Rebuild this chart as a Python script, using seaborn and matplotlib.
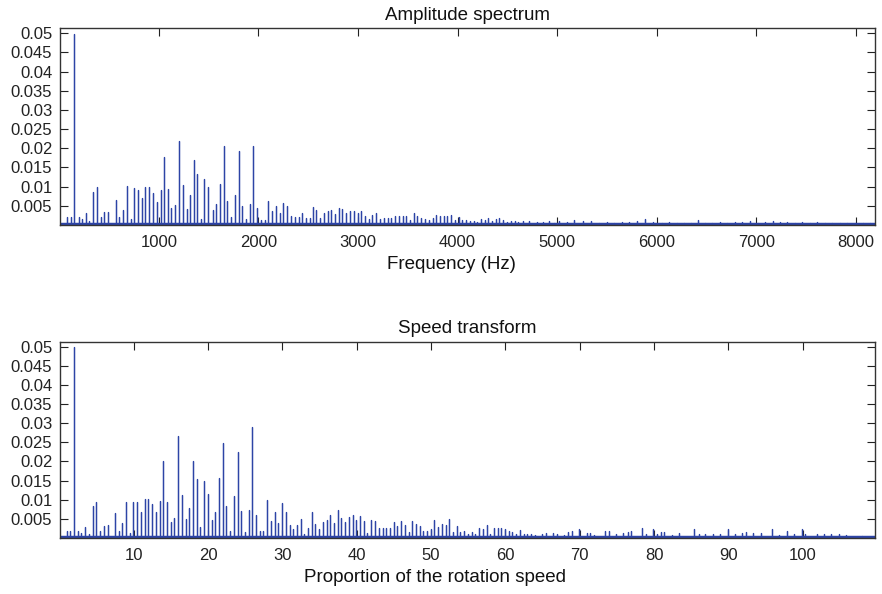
import numpy as np
import pandas as pd
import seaborn as sns
import matplotlib.pyplot as plt

# --- amplitude spectrum peaks (Hz, amplitude) ---
freq_low = [77, 115, 147, 194, 230, 268, 301, 341, 375, 415, 451, 488,
            565, 602, 642, 679, 716, 749, 789, 826, 863, 903, 940, 977,
            1017, 1050, 1087, 1124, 1164, 1201, 1238, 1278, 1314, 1351, 1388, 1425,
            1458, 1498, 1539, 1579, 1615, 1652, 1689, 1726, 1763, 1800, 1840, 1876,
            1913, 1950, 1990, 2027, 2063, 2100, 2141, 2174, 2214, 2251, 2287, 2327,
            2364, 2404]
amp_low = [0.002, 0.002, 0.0498, 0.002, 0.0015, 0.003, 0.001, 0.0085, 0.0098, 0.002, 0.0035, 0.0035,
           0.0065, 0.002, 0.004, 0.0101, 0.0015, 0.0096, 0.0092, 0.007, 0.0099, 0.0099, 0.0083, 0.006,
           0.0092, 0.0177, 0.0094, 0.0043, 0.0053, 0.022, 0.0104, 0.0042, 0.0079, 0.0169, 0.0133, 0.0015,
           0.012, 0.0098, 0.004, 0.0055, 0.0107, 0.0207, 0.0062, 0.002, 0.0079, 0.0194, 0.005, 0.0015,
           0.0055, 0.0205, 0.0045, 0.0012, 0.0013, 0.0062, 0.0037, 0.0049, 0.003, 0.0056, 0.005, 0.0022,
           0.002, 0.002]

freq_mid = [2442, 2475, 2515, 2548, 2582, 2622, 2655, 2699, 2733, 2773, 2809, 2843,
            2883, 2923, 2963, 3000, 3033, 3074, 3107, 3144, 3184, 3224, 3260, 3298,
            3335, 3375, 3408, 3448, 3485, 3521, 3562, 3596, 3636, 3672, 3709, 3749,
            3786, 3822, 3859, 3897, 3933, 3970, 4010, 4047, 4087, 4127, 4164, 4197,
            4234, 4274, 4307, 4347, 4388, 4421, 4461, 4498, 4538, 4575, 4612, 4655,
            4722, 4800, 4860, 4916, 4970, 5023, 5100, 5174, 5258, 5341]
amp_mid = [0.003, 0.0017, 0.0017, 0.0047, 0.0038, 0.0017, 0.0031, 0.0037, 0.004, 0.0029, 0.0044, 0.0042,
           0.003, 0.0037, 0.0037, 0.003, 0.0037, 0.0024, 0.0015, 0.0026, 0.003, 0.0016, 0.0018, 0.0017,
           0.0017, 0.0023, 0.0022, 0.0023, 0.0023, 0.0014, 0.003, 0.0022, 0.0017, 0.0015, 0.0014, 0.0017,
           0.0027, 0.0023, 0.0023, 0.0023, 0.0026, 0.0012, 0.002, 0.0013, 0.0012, 0.0011, 0.001, 0.0008,
           0.0016, 0.0014, 0.0017, 0.0009, 0.0016, 0.0017, 0.0014, 0.0008, 0.001, 0.001, 0.0008, 0.001,
           0.0009, 0.0007, 0.0007, 0.001, 0.0006, 0.001, 0.0007, 0.0012, 0.001, 0.001]

freq_high = [5420, 5500, 5570, 5650, 5720, 5800, 5886, 5960, 6050, 6120, 6200, 6270,
             6340, 6411, 6490, 6560, 6640, 6710, 6790, 6860, 6940, 7020, 7090, 7170,
             7240, 7310, 7390, 7460, 7540, 7610, 7690, 7760, 7840, 7910, 7990, 8070, 8140]
amp_high = [0.0006, 0.0008, 0.0006, 0.0007, 0.0008, 0.0009, 0.0016, 0.0008, 0.0006, 0.0007, 0.0005, 0.0006,
            0.0005, 0.0012, 0.0005, 0.0006, 0.0007, 0.0006, 0.0008, 0.0007, 0.0009, 0.0006, 0.0008, 0.001,
            0.0007, 0.0008, 0.0006, 0.0007, 0.0006, 0.0007, 0.0005, 0.0006, 0.0005, 0.0006, 0.0005, 0.0006, 0.0004]

# --- speed transform peaks (order of rotation speed, amplitude) ---
order_low = [0.98, 1.48, 1.93, 2.46, 2.96, 3.5, 3.98, 4.5, 5.0, 5.5, 6.0, 6.5,
             7.48, 7.98, 8.48, 8.97, 9.46, 9.97, 10.48, 10.98, 11.48, 11.98, 12.48, 12.97,
             13.48, 13.95, 14.48, 14.98, 15.48, 15.97, 16.47, 16.98, 17.5, 17.98, 18.48, 18.98,
             19.47, 19.97, 20.48, 20.96, 21.45, 21.95, 22.47, 22.97, 23.48, 23.98, 24.5, 25.0,
             25.5, 25.98, 26.48, 26.97, 27.46, 27.95, 28.45, 28.97, 29.47, 30.0, 30.48, 31.0,
             31.47, 31.98]
samp_low = [0.0019, 0.0017, 0.0498, 0.0017, 0.0013, 0.0029, 0.001, 0.0084, 0.0094, 0.0018, 0.0032, 0.0035,
            0.0065, 0.0019, 0.004, 0.0095, 0.0013, 0.0095, 0.0095, 0.0069, 0.0102, 0.0103, 0.0089, 0.0067,
            0.0096, 0.0202, 0.0095, 0.0042, 0.0052, 0.0267, 0.0112, 0.005, 0.0078, 0.0202, 0.0154, 0.0029,
            0.0149, 0.0115, 0.0048, 0.0068, 0.0156, 0.0248, 0.0083, 0.0017, 0.011, 0.0224, 0.0071, 0.0015,
            0.0072, 0.0289, 0.006, 0.0018, 0.0018, 0.01, 0.0045, 0.0068, 0.0039, 0.0091, 0.0068, 0.0034,
            0.0022, 0.0033]

order_mid = [32.44, 32.97, 33.46, 33.92, 34.45, 34.94, 35.44, 35.94, 36.46, 36.96, 37.46, 37.95,
             38.44, 38.94, 39.44, 39.96, 40.45, 40.93, 41.45, 41.94, 42.47, 42.97, 43.47, 43.96,
             44.45, 44.95, 45.44, 45.94, 46.46, 46.97, 47.46, 47.95, 48.45, 48.94, 49.43, 49.93,
             50.46, 50.93, 51.45, 51.95, 52.44, 52.93, 53.43, 53.92, 54.42, 54.91, 55.45, 55.94,
             56.43, 56.93, 57.46, 57.91, 58.45, 58.95, 59.44, 59.93, 60.43, 60.92, 61.41, 61.95,
             62.45, 62.94, 63.43, 63.93]
samp_mid = [0.005, 0.001, 0.0025, 0.0069, 0.0036, 0.0023, 0.0042, 0.0047, 0.0061, 0.0039, 0.0074, 0.0053,
            0.0041, 0.0054, 0.006, 0.0046, 0.0058, 0.0045, 0.0014, 0.0046, 0.0044, 0.0026, 0.0027, 0.0027,
            0.0027, 0.0041, 0.0032, 0.0043, 0.0033, 0.0015, 0.0043, 0.0036, 0.0032, 0.0017, 0.0019, 0.0023,
            0.0048, 0.0029, 0.0036, 0.0033, 0.005, 0.0016, 0.003, 0.0016, 0.0019, 0.001, 0.0016, 0.0011,
            0.0027, 0.0023, 0.0033, 0.0009, 0.0025, 0.0025, 0.0025, 0.0022, 0.0017, 0.0015, 0.0011, 0.002,
            0.001, 0.0009, 0.0009, 0.0008]

order_high = [64.91, 65.41, 66.39, 66.89, 67.87, 68.41, 68.91, 69.89, 70.93, 71.41, 71.91, 73.4,
              73.9, 74.9, 75.86, 76.44, 76.85, 78.33, 78.87, 79.9, 80.4, 80.9, 81.37, 82.37,
              83.39, 85.41, 86.0, 86.85, 87.88, 88.87, 89.9, 90.9, 91.87, 92.37, 93.35, 94.4,
              95.87, 96.85, 97.84, 98.87, 99.86, 100.3, 101.9, 102.9, 103.8, 104.8, 105.8, 107.9]
samp_high = [0.0009, 0.0013, 0.0014, 0.001, 0.0008, 0.0015, 0.0018, 0.0024, 0.0013, 0.0013, 0.0007, 0.0019,
             0.0018, 0.001, 0.0013, 0.0016, 0.0017, 0.0025, 0.0011, 0.0022, 0.001, 0.0016, 0.0015, 0.0007,
             0.0012, 0.0022, 0.0011, 0.001, 0.0009, 0.001, 0.0023, 0.001, 0.0014, 0.0015, 0.0013, 0.0012,
             0.0022, 0.0008, 0.0019, 0.001, 0.0023, 0.001, 0.0011, 0.001, 0.001, 0.001, 0.0007, 0.0004]

ytick_values = [0.005, 0.01, 0.015, 0.02, 0.025, 0.03, 0.035, 0.04, 0.045, 0.05]
ytick_labels = ['0.005', '0.01', '0.015', '0.02', '0.025', '0.03', '0.035', '0.04', '0.045', '0.05']
freq_ticks = [1000, 2000, 3000, 4000, 5000, 6000, 7000, 8000]
order_ticks = [10, 20, 30, 40, 50, 60, 70, 80, 90, 100]

line_color = '#2d44a6'


def spikes(xs, ys, xmin, xmax):
    # each peak is drawn as a vertical excursion of the spectrum line
    rows = [(xmin, 0.0)]
    for x, y in sorted(zip(xs, ys)):
        rows += [(x, 0.0), (x, y), (x, 0.0)]
    rows.append((xmax, 0.0))
    return pd.DataFrame(rows, columns=['x', 'amp'])


sns.set_style('ticks')
plt.rcParams['font.family'] = ['Liberation Sans', 'DejaVu Sans']

fig = plt.figure(figsize=(8.82, 5.94), dpi=100)
ax1 = fig.add_axes([0.068, 0.6207, 0.924, 0.3317])
ax2 = fig.add_axes([0.068, 0.0938, 0.924, 0.3309])

df_top = spikes(freq_low + freq_mid + freq_high, amp_low + amp_mid + amp_high, 7, 8192)
df_bot = spikes(order_low + order_mid + order_high, samp_low + samp_mid + samp_high, 0.09, 109.7)

sns.lineplot(data=df_top, x='x', y='amp', sort=False, estimator=None,
             color=line_color, lw=0.9, ax=ax1)
sns.lineplot(data=df_bot, x='x', y='amp', sort=False, estimator=None,
             color=line_color, lw=0.9, ax=ax2)

for ax, xlim, xticks, title, xlabel, label_x in [
        (ax1, (7, 8192), freq_ticks, 'Amplitude spectrum', 'Frequency (Hz)', 0.48),
        (ax2, (0.09, 109.7), order_ticks, 'Speed transform', 'Proportion of the rotation speed', 0.46)]:
    ax.axhline(0, color=line_color, lw=3.2, zorder=1)
    ax.set_xlim(*xlim)
    ax.set_ylim(-0.0001, 0.0513)
    ax.set_xticks(xticks)
    ax.set_xticklabels([str(t) for t in xticks])
    ax.set_yticks(ytick_values)
    ax.set_yticklabels(ytick_labels)
    ax.tick_params(direction='in', length=6, width=0.8, top=True, right=True,
                   labelsize=12, colors='#222222')
    ax.tick_params(axis='x', pad=7)
    ax.tick_params(axis='y', pad=5.5)
    for s in ax.spines.values():
        s.set_visible(True)
        s.set_linewidth(1.0)
        s.set_color('#333333')
    ax.set_title(title, fontsize=13.5, color='#111111', pad=6)
    ax.set_xlabel(xlabel, fontsize=13.5, color='#111111')
    ax.xaxis.set_label_coords(label_x, -0.155)
    ax.set_ylabel('')

fig.savefig('out.png', dpi=100)
